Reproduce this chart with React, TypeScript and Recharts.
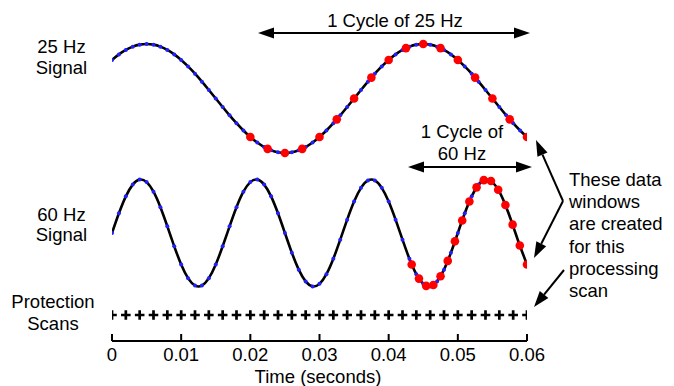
import { ComposedChart, Line, XAxis, YAxis } from 'recharts';

// sample times of the continuous signals (s)
const TIME_S = [
  0, 0.001, 0.002, 0.003, 0.004, 0.005, 0.006, 0.007, 0.008, 0.009,
  0.01, 0.011, 0.012, 0.013, 0.014, 0.015, 0.016, 0.017, 0.018, 0.019,
  0.02, 0.021, 0.022, 0.023, 0.024, 0.025, 0.026, 0.027, 0.028, 0.029,
  0.03, 0.031, 0.032, 0.033, 0.034, 0.035, 0.036, 0.037, 0.038, 0.039,
  0.04, 0.041, 0.042, 0.043, 0.044, 0.045, 0.046, 0.047, 0.048, 0.049,
  0.05, 0.051, 0.052, 0.053, 0.054, 0.055, 0.056, 0.057, 0.058, 0.059, 0.06,
];

const SIGNAL_25HZ = [
  0.707, 0.809, 0.891, 0.951, 0.988, 1, 0.988, 0.951, 0.891, 0.809,
  0.707, 0.588, 0.454, 0.309, 0.156, 0, -0.156, -0.309, -0.454, -0.588,
  -0.707, -0.809, -0.891, -0.951, -0.988, -1, -0.988, -0.951, -0.891, -0.809,
  -0.707, -0.588, -0.454, -0.309, -0.156, 0, 0.156, 0.309, 0.454, 0.588,
  0.707, 0.809, 0.891, 0.951, 0.988, 1, 0.988, 0.951, 0.891, 0.809,
  0.707, 0.588, 0.454, 0.309, 0.156, 0, -0.156, -0.309, -0.454, -0.588, -0.707,
];

const SIGNAL_60HZ = [
  0, 0.368, 0.685, 0.905, 0.998, 0.951, 0.771, 0.482, 0.125, -0.249,
  -0.588, -0.844, -0.982, -0.982, -0.844, -0.588, -0.249, 0.125, 0.482, 0.771,
  0.951, 0.998, 0.905, 0.685, 0.368, 0, -0.368, -0.685, -0.905, -0.998,
  -0.951, -0.771, -0.482, -0.125, 0.249, 0.588, 0.844, 0.982, 0.982, 0.844,
  0.588, 0.249, -0.125, -0.482, -0.771, -0.951, -0.998, -0.905, -0.685, -0.368,
  0, 0.368, 0.685, 0.905, 0.998, 0.951, 0.771, 0.482, 0.125, -0.249, -0.588,
];

// data window for the 25 Hz signal (16 samples per cycle)
const WINDOW_25HZ_T = [
  0.02, 0.0225, 0.025, 0.0275, 0.03, 0.0325, 0.035, 0.0375, 0.04,
  0.0425, 0.045, 0.0475, 0.05, 0.0525, 0.055, 0.0575, 0.06,
];
const WINDOW_25HZ_V = [
  -0.707, -0.924, -1, -0.924, -0.707, -0.383, 0, 0.383, 0.707,
  0.924, 1, 0.924, 0.707, 0.383, 0, -0.383, -0.707,
];

// data window for the 60 Hz signal (16 samples per cycle)
const WINDOW_60HZ_T = [
  0.04333, 0.04438, 0.04542, 0.04646, 0.0475, 0.04854, 0.04958, 0.05063, 0.05167,
  0.05271, 0.05375, 0.05479, 0.05583, 0.05688, 0.05792, 0.05896, 0.06,
];
const WINDOW_60HZ_V = [
  -0.588, -0.853, -0.988, -0.972, -0.809, -0.522, -0.156, 0.233, 0.588,
  0.853, 0.988, 0.972, 0.809, 0.522, 0.156, -0.233, -0.588,
];

const SCAN_TIMES = [
  0, 0.002, 0.004, 0.006, 0.008, 0.01, 0.012, 0.014, 0.016, 0.018,
  0.02, 0.022, 0.024, 0.026, 0.028, 0.03, 0.032, 0.034, 0.036, 0.038,
  0.04, 0.042, 0.044, 0.046, 0.048, 0.05, 0.052, 0.054, 0.056, 0.058, 0.06,
];

const TIME_TICKS = [0, 0.01, 0.02, 0.03, 0.04, 0.05, 0.06];

const W = 674;
const H = 386;
const AXIS_Y = 341;
const FONT = '"Liberation Sans", Arial, sans-serif';
const FS = 18.5;

const sig25 = TIME_S.map((t, i) => ({ t, v: SIGNAL_25HZ[i] }));
const sig60 = TIME_S.map((t, i) => ({ t, v: SIGNAL_60HZ[i] }));
const win25 = WINDOW_25HZ_T.map((t, i) => ({ t, v: WINDOW_25HZ_V[i] }));
const win60 = WINDOW_60HZ_T.map((t, i) => ({ t, v: WINDOW_60HZ_V[i] }));
const scans = SCAN_TIMES.map((t) => ({ t, v: 0 }));

const TimeTick = (props: any) => {
  const { x, payload } = props;
  return (
    <g>
      <line x1={x} x2={x} y1={AXIS_Y} y2={AXIS_Y - 7} stroke="#000" strokeWidth={2} />
      <text x={x} y={361} textAnchor="middle" fontSize={FS} fontFamily={FONT} fill="#000">
        {payload.value}
      </text>
    </g>
  );
};

const PlusDot = (props: any) => {
  const { cx, cy, index } = props;
  return (
    <path
      key={`scan-${index}`}
      d={`M${cx - 4.8},${cy}H${cx + 4.8}M${cx},${cy - 4.8}V${cy + 4.8}`}
      stroke="#000"
      strokeWidth={2.7}
      fill="none"
    />
  );
};

// arrow shaft with a filled head at (x2, y2)
const Arrow = ({ x1, y1, x2, y2 }: { x1: number; y1: number; x2: number; y2: number }) => {
  const a = Math.atan2(y2 - y1, x2 - x1);
  const len = 16;
  const hw = 5.5;
  const bx = x2 - len * Math.cos(a);
  const by = y2 - len * Math.sin(a);
  const px = -Math.sin(a) * hw;
  const py = Math.cos(a) * hw;
  return (
    <g>
      <line x1={x1} y1={y1} x2={bx} y2={by} stroke="#000" strokeWidth={2} />
      <polygon points={`${x2},${y2} ${bx + px},${by + py} ${bx - px},${by - py}`} fill="#000" />
    </g>
  );
};

const Label = ({ x, y, children, anchor = 'middle' }: any) => (
  <text x={x} y={y} textAnchor={anchor} fontSize={FS} fontFamily={FONT} fill="#000">
    {children}
  </text>
);

export default function App() {
  return (
    <div style={{ position: 'relative', width: W, height: H }}>
      <style>{'body{margin:0}'}</style>
      <ComposedChart width={W} height={H} margin={{ top: 0, right: 147, bottom: 0, left: 112 }}>
        <XAxis
          dataKey="t"
          type="number"
          domain={[0, 0.06]}
          ticks={TIME_TICKS}
          interval={0}
          allowDataOverflow
          height={45}
          axisLine={{ stroke: '#000', strokeWidth: 2 }}
          tickLine={false}
          tick={<TimeTick />}
        />
        <YAxis yAxisId="s25" dataKey="v" hide type="number" domain={[-4.45, 1.807]} allowDataOverflow />
        <YAxis yAxisId="s60" dataKey="v" hide type="number" domain={[-2.019, 4.355]} allowDataOverflow />
        <YAxis yAxisId="scan" dataKey="v" hide type="number" domain={[-0.0825, 1]} allowDataOverflow />

        {/* sample points under the curves */}
        <Line yAxisId="s25" data={sig25} dataKey="v" stroke="none" dot={{ r: 2, fill: '#2020ff', stroke: 'none' }} activeDot={false} isAnimationActive={false} />
        <Line yAxisId="s60" data={sig60} dataKey="v" stroke="none" dot={{ r: 2, fill: '#2020ff', stroke: 'none' }} activeDot={false} isAnimationActive={false} />
        <Line yAxisId="s25" data={sig25} dataKey="v" type="natural" stroke="#000" strokeWidth={2.6} dot={false} activeDot={false} isAnimationActive={false} />
        <Line yAxisId="s60" data={sig60} dataKey="v" type="natural" stroke="#000" strokeWidth={2.6} dot={false} activeDot={false} isAnimationActive={false} />

        {/* data windows */}
        <Line yAxisId="s25" data={win25} dataKey="v" stroke="none" dot={{ r: 4.3, fill: '#ff0000', stroke: 'none' }} activeDot={false} isAnimationActive={false} />
        <Line yAxisId="s60" data={win60} dataKey="v" stroke="none" dot={{ r: 4.3, fill: '#ff0000', stroke: 'none' }} activeDot={false} isAnimationActive={false} />

        {/* protection scans */}
        <Line yAxisId="scan" data={scans} dataKey="v" stroke="none" dot={PlusDot} activeDot={false} isAnimationActive={false} />
      </ComposedChart>

      <svg width={W} height={H} style={{ position: 'absolute', left: 0, top: 0, pointerEvents: 'none' }}>
        <Label x={61.5} y={53}>25 Hz</Label>
        <Label x={61.5} y={73.5}>Signal</Label>
        <Label x={61.5} y={221}>60 Hz</Label>
        <Label x={61.5} y={241}>Signal</Label>
        <Label x={53} y={308}>Protection</Label>
        <Label x={53} y={330}>Scans</Label>

        <Label x={395} y={26.5}>1 Cycle of 25 Hz</Label>
        <Arrow x1={394} y1={33} x2={258} y2={33} />
        <Arrow x1={394} y1={33} x2={530} y2={33} />

        <Label x={462} y={138}>1 Cycle of</Label>
        <Label x={462} y={160}>60 Hz</Label>
        <Arrow x1={470} y1={167} x2={408} y2={167} />
        <Arrow x1={470} y1={167} x2={532} y2={167} />

        {['These data', 'windows', 'are created', 'for this', 'processing', 'scan'].map((s, i) => (
          <Label key={s} x={569} y={186 + i * 22.2} anchor="start">
            {s}
          </Label>
        ))}
        <Arrow x1={563} y1={201} x2={536} y2={140} />
        <Arrow x1={563} y1={201} x2={534} y2={258} />
        <Arrow x1={564} y1={270} x2={534} y2={307} />

        <Label x={318} y={383}>Time (seconds)</Label>
      </svg>
    </div>
  );
}
